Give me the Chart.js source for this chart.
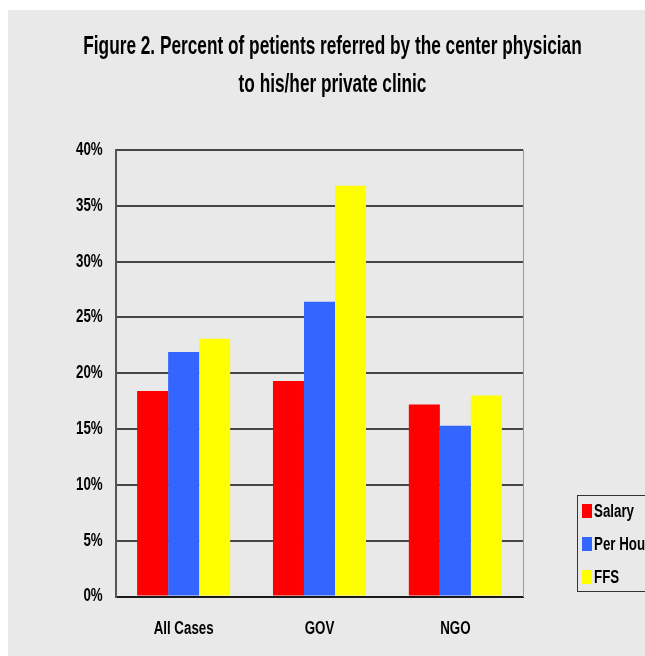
<!DOCTYPE html>
<html>
<head>
<meta charset="utf-8">
<script src="https://cdn.jsdelivr.net/npm/chart.js@4.4.1/dist/chart.umd.min.js"></script>
<style>
  html, body { margin: 0; padding: 0; background: #ffffff; }
  #wrap { position: relative; width: 645px; height: 656px; }
</style>
</head>
<body>
<div id="wrap"><canvas id="c" width="645" height="656"></canvas></div>
<script>
// Chart data
const categories = ['All Cases', 'GOV', 'NGO'];
const seriesNames = ['Salary', 'Per Hour', 'FFS'];
const salary  = [18.4, 19.3, 17.2];
const perHour = [21.9, 26.4, 15.3];
const ffs     = [23.1, 36.8, 18.0];
const yTickLabels = ['0%', '5%', '10%', '15%', '20%', '25%', '30%', '35%', '40%'];
const titleLines = ['Figure 2. Percent of petients referred by the center physician', 'to his/her private clinic'];

const colors = ['#ff0000', '#3366ff', '#ffff00'];
const FONT = "'Liberation Sans', Arial, sans-serif";

// Narrow lettering: every fillText call is compressed horizontally around its anchor
function squeezeFor(font) {
  const m = /(\d+(?:\.\d+)?)px/.exec(font);
  const size = m ? parseFloat(m[1]) : 12;
  return size > 20 ? 0.69 : 0.74;
}
const narrowTextPlugin = {
  id: 'narrowText',
  beforeInit(chart) {
    const ctx = chart.ctx;
    if (ctx.__narrow) return;
    const fill = ctx.fillText.bind(ctx);
    ctx.fillText = function (text, x, y) {
      const k = squeezeFor(this.font);
      this.save();
      this.translate(x, y);
      this.scale(k, 1);
      fill(text, 0, 0);
      this.restore();
    };
    ctx.__narrow = true;
  }
};

// Page background: white margin strip on the top and left, grey panel elsewhere
const backgroundPlugin = {
  id: 'panelBackground',
  beforeDraw(chart) {
    const ctx = chart.ctx;
    ctx.save();
    ctx.fillStyle = '#ffffff';
    ctx.fillRect(0, 0, chart.width, chart.height);
    ctx.fillStyle = '#e9e9e9';
    ctx.fillRect(8, 10, chart.width - 8, chart.height - 10);
    ctx.restore();
  }
};

// Boxed legend at the lower right
const boxLegendPlugin = {
  id: 'boxLegend',
  afterDraw(chart) {
    const ctx = chart.ctx;
    const x = 577.5, y = 495.5, w = 90, h = 96;
    ctx.save();
    ctx.strokeStyle = '#333333';
    ctx.lineWidth = 1;
    ctx.strokeRect(x, y, w, h);
    ctx.font = 'bold 18px ' + FONT;
    ctx.textBaseline = 'middle';
    ctx.textAlign = 'left';
    chart.data.datasets.forEach((ds, i) => {
      const cy = 511 + i * 33;
      ctx.fillStyle = ds.backgroundColor;
      ctx.fillRect(582, cy - 7, 10, 14);
      ctx.fillStyle = '#000000';
      ctx.fillText(ds.label, 594, cy + 1);
    });
    ctx.restore();
  }
};

const datasets = [salary, perHour, ffs].map((vals, i) => ({
  label: seriesNames[i],
  data: vals,
  backgroundColor: colors[i],
  borderWidth: 0,
  categoryPercentage: 0.685,
  barPercentage: 1.0,
  yAxisID: 'y'
}));

new Chart(document.getElementById('c'), {
  type: 'bar',
  data: { labels: categories, datasets },
  options: {
    responsive: false,
    animation: false,
    layout: { padding: { left: 20, right: 0, top: 0, bottom: 0 } },
    plugins: {
      legend: { display: false },
      tooltip: { enabled: false },
      title: {
        display: true,
        text: titleLines,
        color: '#000000',
        font: { family: FONT, size: 25, weight: 'bold', lineHeight: 1.52 },
        padding: { top: 28, bottom: 46 }
      }
    },
    scales: {
      x: {
        afterFit(scale) { scale.height = 59.5; },
        grid: { display: false, drawTicks: false },
        border: { display: true, color: '#1a1a1a', width: 2 },
        ticks: {
          color: '#000000',
          padding: 22,
          maxRotation: 0,
          font: { family: FONT, size: 18, weight: 'bold' }
        }
      },
      y: {
        min: 0,
        max: 40,
        afterFit(scale) { scale.width = 95.7; },
        grid: { color: '#454545', lineWidth: 2, drawTicks: false },
        border: { display: true, color: '#555555', width: 2 },
        ticks: {
          stepSize: 5,
          padding: 13,
          color: '#000000',
          font: { family: FONT, size: 18, weight: 'bold' },
          callback: (v, i) => yTickLabels[i]
        }
      },
      yRight: {
        position: 'right',
        min: 0,
        max: 40,
        afterFit(scale) { scale.width = 121.7; },
        grid: { display: false, drawTicks: false },
        border: { display: true, color: '#9a9a9a', width: 1 },
        ticks: { display: false }
      }
    }
  },
  plugins: [narrowTextPlugin, backgroundPlugin, boxLegendPlugin]
});
</script>
</body>
</html>
